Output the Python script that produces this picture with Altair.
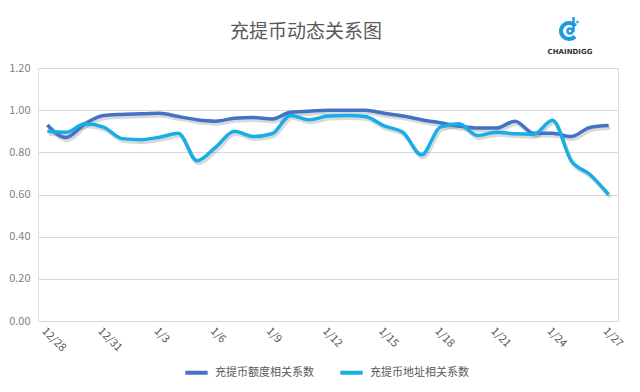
import altair as alt
import pandas as pd

dates = ["12/28", "12/29", "12/30", "12/31", "1/1", "1/2", "1/3", "1/4", "1/5", "1/6",
         "1/7", "1/8", "1/9", "1/10", "1/11", "1/12", "1/13", "1/14", "1/15", "1/16",
         "1/17", "1/18", "1/19", "1/20", "1/21", "1/22", "1/23", "1/24", "1/25", "1/26", "1/27"]
amount_corr = [0.93, 0.87, 0.935, 0.975, 0.98, 0.983, 0.985, 0.97, 0.955, 0.948,
               0.962, 0.965, 0.958, 0.99, 0.995, 1.0, 1.0, 1.0, 0.985, 0.972,
               0.955, 0.94, 0.925, 0.915, 0.915, 0.948, 0.89, 0.89, 0.875, 0.918, 0.927]
address_corr = [0.90, 0.895, 0.935, 0.92, 0.865, 0.86, 0.872, 0.89, 0.76, 0.825,
                0.90, 0.875, 0.888, 0.975, 0.955, 0.972, 0.975, 0.97, 0.925, 0.895,
                0.788, 0.92, 0.935, 0.88, 0.895, 0.888, 0.886, 0.952, 0.76, 0.695, 0.60]
series_names = ["充提币额度相关系数", "充提币地址相关系数"]
series_colors = ["#4472C4", "#17AEE8"]
title_text = "充提币动态关系图"
logo_text = "CHAINDIGG"

rows = []
for d, a, b in zip(dates, amount_corr, address_corr):
    rows.append({"date": d, "series": series_names[0], "value": a})
    rows.append({"date": d, "series": series_names[1], "value": b})
df = pd.DataFrame(rows)

FONT = "Noto Sans CJK SC"
W, H = 580, 253
LOGO_BLUE = "#1E9BE0"

x_enc = alt.X("date:O", sort=dates, title=None,
              scale=alt.Scale(type="point", padding=0.5),
              axis=alt.Axis(values=dates[::3], labelAngle=45, labelAlign="left",
                            labelBaseline="top", labelPadding=4, ticks=False,
                            domain=True, domainColor="#D9D9D9", grid=False,
                            labelColor="#595959", labelFontSize=11, labelFont=FONT))
y_enc = alt.Y("value:Q", title=None,
              scale=alt.Scale(domain=[0, 1.2], nice=False),
              axis=alt.Axis(values=[0, 0.2, 0.4, 0.6, 0.8, 1.0, 1.2], format=".2f",
                            ticks=False, domain=False, gridColor="#D9D9D9",
                            labelColor="#7F7F7F", labelFontSize=11, labelPadding=8,
                            labelFont=FONT))

base = alt.Chart(df)

shadow = base.mark_line(interpolate="monotone", strokeWidth=4, color="#000000",
                        opacity=0.15, xOffset=1.5, yOffset=2.5).encode(
    x=x_enc, y=y_enc, detail="series:N")

lines = base.mark_line(interpolate="monotone", strokeWidth=3.5).encode(
    x=x_enc, y=y_enc,
    color=alt.Color("series:N", sort=series_names,
                    scale=alt.Scale(domain=series_names, range=series_colors),
                    legend=alt.Legend(title=None, orient="none", direction="horizontal",
                                      legendX=145, legendY=291, symbolType="stroke",
                                      symbolSize=500, symbolStrokeWidth=4,
                                      labelFontSize=11, labelColor="#595959",
                                      labelFont=FONT, columnPadding=18, labelOffset=5)))

title = alt.Chart(pd.DataFrame({"t": [title_text]})).mark_text(
    fontSize=19, color="#595959", font=FONT, align="center", baseline="middle").encode(
    x=alt.value(268), y=alt.value(-36), text="t:N")

one = pd.DataFrame({"a": [1]})
logo_ring = alt.Chart(one).mark_arc(
    color=LOGO_BLUE, theta=2.3, theta2=7.2, radius=10, radius2=6).encode(
    x=alt.value(531), y=alt.value(-37))
logo_inner = alt.Chart(one).mark_point(
    filled=False, color=LOGO_BLUE, size=25, strokeWidth=2.5, opacity=1).encode(
    x=alt.value(532), y=alt.value(-37))
logo_stem = alt.Chart(one).mark_rule(
    color=LOGO_BLUE, strokeWidth=2.5).encode(
    x=alt.value(535.5), y=alt.value(-51), y2=alt.value(-36))
logo_tri = alt.Chart(one).mark_point(
    shape="triangle-right", filled=True, color=LOGO_BLUE, size=12, opacity=1).encode(
    x=alt.value(540), y=alt.value(-46))
logo_label = alt.Chart(pd.DataFrame({"t": [logo_text]})).mark_text(
    fontSize=7, fontWeight="bold", color="#333333", font="DejaVu Sans",
    align="center", baseline="middle").encode(
    x=alt.value(532), y=alt.value(-16), text="t:N")

chart = alt.layer(shadow, lines, title, logo_ring, logo_inner, logo_stem, logo_tri,
                  logo_label).properties(
    width=W, height=H,
    autosize=alt.AutoSizeParams(type="none"),
    padding={"left": 30, "top": 60, "right": 14, "bottom": 63},
).configure_view(stroke=None).configure(background="white")

chart.save("out.html", embed_options={"renderer": "svg", "actions": False})
